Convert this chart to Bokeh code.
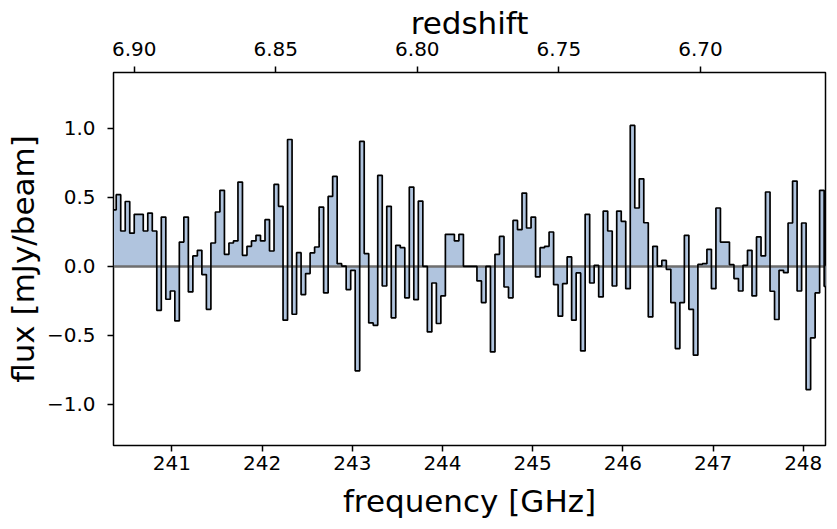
import numpy as np
from bokeh.plotting import figure
from bokeh.models import Range1d, LinearAxis, FixedTicker, CustomJSTickFormatter
from bokeh.embed import file_html
from bokeh.resources import INLINE

# ---- data ----
FLUX = [
    0.41, 0.52, 0.256, 0.47, 0.24, 0.377, 0.377, 0.256, 0.386, 0.256,
    -0.319, 0.357, -0.239, -0.179, -0.396, 0.176, 0.357, -0.186, 0.075, 0.116,
    -0.06, -0.312, 0.169, 0.394, 0.551, 0.087, 0.169, 0.184, 0.611, 0.08,
    0.145, 0.184, 0.225, 0.184, 0.338, 0.111, 0.594, 0.435, -0.391, 0.920,
    -0.348, 0.099, -0.205, -0.053, 0.097, 0.140, 0.430, -0.193, 0.507, 0.652,
    0.019, 0.002, -0.169, -0.029, -0.758, 0.906, 0.092, -0.411, -0.428, 0.659,
    -0.143, 0.435, -0.374, 0.152, 0.135, -0.229, 0.575, -0.242, 0.473, 0.0,
    -0.476, -0.121, -0.415, -0.215, 0.232, 0.232, 0.184, 0.232, 0.0, 0.0,
    0.0, -0.106, -0.263, 0.0, -0.621, 0.087, 0.217, -0.150, -0.229, 0.333,
    0.266, 0.531, 0.278, 0.357, -0.077, 0.135, 0.145, 0.249, -0.133, -0.362,
    -0.126, 0.068, -0.391, -0.048, -0.614, 0.377, -0.121, 0.007, -0.222, 0.401,
    0.256, -0.143, 0.401, 0.326, -0.162, 1.022, 0.423, 0.635, 0.316, -0.367,
    0.145, 0.002, 0.043, -0.022, -0.263, -0.597, -0.263, 0.225, -0.312, -0.645,
    0.014, 0.019, 0.123, -0.162, 0.423, 0.176, 0.176, 0.012, -0.089, -0.179,
    0.007, 0.116, -0.215, 0.213, 0.075, 0.539, -0.181, -0.386, -0.029, -0.046,
    0.314, 0.618, -0.179, 0.314, -0.894, -0.519, -0.193, 0.551, -0.145,
]
CHAN0_GHZ = 240.357      # centre of first channel
CHAN_WIDTH_GHZ = 0.05    # channel width
FREQ = [CHAN0_GHZ + CHAN_WIDTH_GHZ * i for i in range(len(FLUX))]

FREQ_TICKS = [241, 242, 243, 244, 245, 246, 247, 248]
FLUX_TICKS = [-1.0, -0.5, 0.0, 0.5, 1.0]
Z_TICKS = [6.90, 6.85, 6.80, 6.75, 6.70]
NU_CII = 1900.537        # GHz rest frequency used for the redshift axis
X_LIM = (240.352, 248.247)
Y_LIM = (-1.3, 1.406)

FONT = "DejaVu Sans"
FILL = "#b0c4de"

p = figure(
    frame_width=712, frame_height=373,
    x_range=Range1d(*X_LIM), y_range=Range1d(*Y_LIM),
    output_backend="svg", toolbar_location=None,
    min_border_left=113, min_border_right=11,
    min_border_top=72, min_border_bottom=83,
)
p.xgrid.visible = False
p.ygrid.visible = False
p.outline_line_color = "black"
p.outline_line_width = 1.5
p.background_fill_color = "white"
p.border_fill_color = "white"

p.varea_step(x=FREQ, y1=0, y2=FLUX, step_mode="center", fill_color=FILL)
p.hspan(y=[0], line_color="#6e6e6e", line_width=2.4)
p.step(x=FREQ, y=FLUX, mode="center", line_color="black", line_width=1.7)

p.extra_x_ranges = {"z": Range1d(start=NU_CII / X_LIM[0] - 1, end=NU_CII / X_LIM[1] - 1)}
top = LinearAxis(x_range_name="z")
p.add_layout(top, "above")

bottom = p.below[0]
bottom.ticker = FixedTicker(ticks=FREQ_TICKS, minor_ticks=[])
bottom.formatter = CustomJSTickFormatter(code="return tick.toFixed(0)")
bottom.axis_label = "frequency [GHz]"
bottom.axis_label_standoff = 10
bottom.major_label_standoff = 4

top.ticker = FixedTicker(ticks=Z_TICKS, minor_ticks=[])
top.formatter = CustomJSTickFormatter(code="return tick.toFixed(2)")
top.axis_label = "redshift"
top.axis_label_standoff = -2
top.major_label_standoff = 11

ya = p.left[0]
ya.ticker = FixedTicker(ticks=FLUX_TICKS, minor_ticks=[])
ya.formatter = CustomJSTickFormatter(code="return tick.toFixed(1).replace('-', '\u2212')")
ya.axis_label = "flux [mJy/beam]"
ya.axis_label_standoff = 3
ya.major_label_standoff = 12

for ax in (bottom, top, ya):
    ax.axis_line_color = None
    ax.major_tick_in = 0
    ax.major_tick_out = 6
    ax.major_tick_line_width = 1.5
    ax.major_tick_line_color = "black"
    ax.minor_tick_out = 0
    ax.minor_tick_in = 0
    ax.major_label_text_font = FONT
    ax.major_label_text_font_size = "20px"
    ax.major_label_text_color = "black"
    ax.axis_label_text_font = FONT
    ax.axis_label_text_font_size = "31px"
    ax.axis_label_text_font_style = "normal"
    ax.axis_label_text_color = "black"

open("out.html", "w").write(file_html(p, INLINE))
